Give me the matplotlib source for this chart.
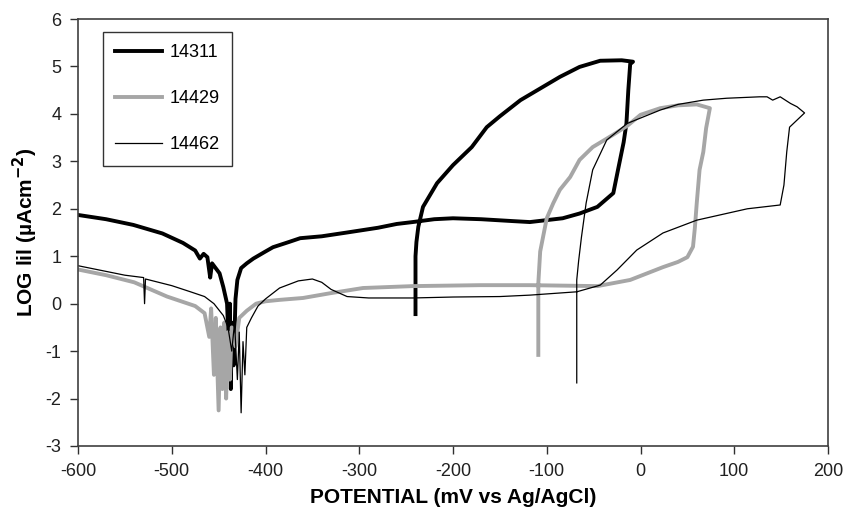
import matplotlib
matplotlib.use("Agg")
import matplotlib.pyplot as plt

plt.rcParams['font.family'] = ['Liberation Sans', 'DejaVu Sans']
plt.rcParams['axes.unicode_minus'] = False

# ---- data (potential in mV vs Ag/AgCl, log|i| in uA/cm2), ordered along the scan ----
labels = ["14311", "14429", "14462"]

e_14311 = [-600, -570, -541, -510, -488, -475, -470, -466, -462, -459, -457, -449, -445, -441,
           -439, -438, -437, -436, -434, -432, -430, -426, -420, -413, -400, -392, -375, -363,
           -340, -313, -280, -260, -243, -220, -200, -170, -136, -118, -83, -65, -46, -29, -24,
           -18, -15, -13, -11, -8,
           -20, -43, -65, -86, -110, -128, -150, -164, -180, -200, -217, -232, -237, -239, -240, -240, -240]
i_14311 = [1.87, 1.78, 1.66, 1.48, 1.28, 1.12, 0.95, 1.05, 0.98, 0.55, 0.85, 0.64, 0.35, 0.0,
           -1.0, 0.0, -1.8, -0.4, -1.3, 0.1, 0.5, 0.75, 0.85, 0.95, 1.1, 1.19, 1.3, 1.38,
           1.42, 1.5, 1.6, 1.68, 1.72, 1.78, 1.8, 1.78, 1.74, 1.72, 1.8, 1.9, 2.04, 2.33, 2.82,
           3.4, 3.8, 4.5, 5.05, 5.1,
           5.13, 5.12, 4.99, 4.78, 4.5, 4.29, 3.95, 3.72, 3.3, 2.92, 2.54, 2.04, 1.62, 1.3, 1.0, 0.5, -0.22]

e_14429 = [-600, -570, -540, -505, -490, -475, -465, -460, -458, -455, -453, -450, -448, -446,
           -444, -442, -440, -438, -436, -432, -428, -420, -410, -400, -385, -360, -331, -296,
           -243, -171, -118, -46, -11, 24, 40, 50, 56, 58, 60, 63, 67, 70, 74,
           60, 40, 21, 0, -14, -30, -51, -65, -75, -86, -93, -100, -104, -107, -109, -109]
i_14429 = [0.72, 0.6, 0.45, 0.15, 0.05, -0.05, -0.2, -0.7, -0.1, -1.5, -0.3, -2.25, -0.5, -1.8,
           -0.4, -2.0, -0.6, -1.6, -0.5, -0.9, -0.3, -0.15, 0.0, 0.05, 0.08, 0.12, 0.22, 0.33,
           0.37, 0.39, 0.39, 0.37, 0.5, 0.77, 0.88, 0.98, 1.2, 1.6, 2.12, 2.82, 3.2, 3.7, 4.12,
           4.2, 4.18, 4.12, 3.98, 3.75, 3.55, 3.3, 3.03, 2.67, 2.4, 2.12, 1.8, 1.4, 1.1, 0.43, -1.08]

e_14462 = [-600, -570, -550, -530, -529, -528, -500, -480, -465, -455, -445, -440, -436, -433,
           -430, -428, -426, -424, -422, -420, -415, -408, -400, -385, -365, -350, -340, -330,
           -313, -290, -243, -200, -150, -118, -68, -43, -25, -4, 24, 60, 114, 149, 153, 156,
           159, 175,
           167, 160, 149, 141, 135, 127, 92, 67, 40, 21, -14, -36, -51, -58, -63, -66, -68, -68]
i_14462 = [0.8, 0.68, 0.6, 0.55, 0.0, 0.52, 0.38, 0.25, 0.15, 0.0, -0.25, -0.5, -1.0, -0.4,
           -1.6, -0.6, -2.3, -0.8, -1.5, -0.5, -0.3, -0.05, 0.1, 0.33, 0.48, 0.52, 0.45, 0.3,
           0.15, 0.12, 0.12, 0.14, 0.15, 0.18, 0.25, 0.39, 0.71, 1.13, 1.49, 1.76, 2.0, 2.08, 2.5, 3.2,
           3.72, 4.02,
           4.15, 4.22, 4.36, 4.29, 4.36, 4.36, 4.33, 4.29, 4.2, 4.08, 3.8, 3.45, 2.82, 2.12, 1.4, 0.9, 0.5, -1.67]

x_ticks = [-600, -500, -400, -300, -200, -100, 0, 100, 200]
y_ticks = [-3, -2, -1, 0, 1, 2, 3, 4, 5, 6]

# ---- figure ----
fig = plt.figure(figsize=(8.49, 5.22), dpi=100)
ax = fig.add_axes([78 / 849, 1 - 446 / 522, 750 / 849, 427 / 522])

ax.plot(e_14311, i_14311, color="black", lw=2.8, label=labels[0], solid_joinstyle="round")
ax.plot(e_14429, i_14429, color="#a6a6a6", lw=2.8, label=labels[1], solid_joinstyle="round")
ax.plot(e_14462, i_14462, color="black", lw=0.9, label=labels[2])

ax.set_xlim(-600, 200)
ax.set_ylim(-3, 6)
ax.set_xticks(x_ticks)
ax.set_yticks(y_ticks)
ax.tick_params(axis="both", direction="out", length=6, width=1, labelsize=13,
               color="#303030", labelcolor="#202020", pad=6)
for s in ax.spines.values():
    s.set_color("#404040")
    s.set_linewidth(1.2)

ax.set_xlabel("POTENTIAL (mV vs Ag/AgCl)", fontsize=15, fontweight="bold", labelpad=6)
ax.set_ylabel(r"LOG lil (µAcm$^{\mathbf{-2}}$)", fontsize=15, fontweight="bold", labelpad=4)

leg = ax.legend(loc="upper left", bbox_to_anchor=(0.033, 0.97), borderaxespad=0,
                fancybox=False, frameon=True, edgecolor="black", fontsize=13,
                handlelength=2.6, handletextpad=0.4, labelspacing=1.6, borderpad=0.7)
leg.get_frame().set_linewidth(1.0)

fig.savefig("out.png", dpi=100)
